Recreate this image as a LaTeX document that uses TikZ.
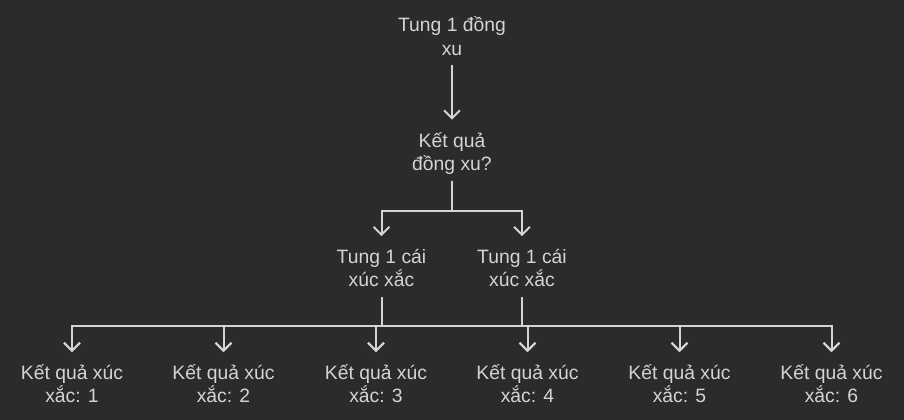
\documentclass[tikz,border=0pt]{standalone}
\usepackage{fontspec}
\setmainfont{Liberation Sans}
\usetikzlibrary{arrows.meta}
\definecolor{bgdark}{HTML}{2B2B2B}
\definecolor{ink}{HTML}{D4D4D4}
\begin{document}
\begin{tikzpicture}[x=0.75pt,y=-0.75pt,
  lbl/.style={anchor=base, align=center, inner sep=0pt, text=ink,
    font=\fontsize{14.5pt}{17.6pt}\selectfont, text height=37.9pt, text depth=7.4pt},
  link/.style={draw=ink, line width=1.5pt, -{Straight Barb[length=6pt,width=12pt]}}]
\fill[bgdark] (0,0) rectangle (904,420);

\node[lbl] (coin) at (452,55.2) {Tung 1 đồng\\xu};
\node[lbl] (ask) at (452,170.5) {Kết quả\\đồng xu?};
\node[lbl] (die1) at (381.5,287) {Tung 1 cái\\xúc xắc};
\node[lbl] (die2) at (522,287) {Tung 1 cái\\xúc xắc};
\node[lbl] (r1) at (72,403) {Kết quả xúc\\xắc: 1};
\node[lbl] (r2) at (223.5,403) {Kết quả xúc\\xắc: 2};
\node[lbl] (r3) at (376,403) {Kết quả xúc\\xắc: 3};
\node[lbl] (r4) at (527.5,403) {Kết quả xúc\\xắc: 4};
\node[lbl] (r5) at (679.5,403) {Kết quả xúc\\xắc: 5};
\node[lbl] (r6) at (831.5,403) {Kết quả xúc\\xắc: 6};

\path[link] (coin) -- (ask);
\path[link] (ask.south) -- ++(0,30) -| (die1);
\path[link] (ask.south) -- ++(0,30) -| (die2);
\foreach \i in {1,...,6} {
  \path[link] (die1.south) -- ++(0,29) -| (r\i);
  \path[link] (die2.south) -- ++(0,29) -| (r\i);
}
\end{tikzpicture}
\end{document}
